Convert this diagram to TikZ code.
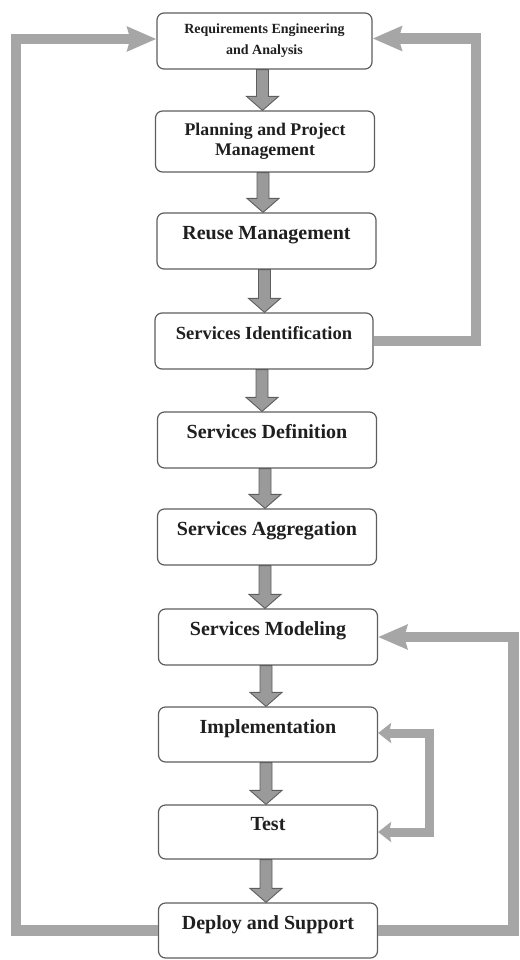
\documentclass[tikz,border=0pt]{standalone}
\usepackage{fontspec}
\setmainfont{Liberation Serif}
\usetikzlibrary{arrows.meta,calc}
\definecolor{fbgray}{HTML}{A6A6A6}
\definecolor{dagray}{HTML}{9A9A9A}
\definecolor{edgegray}{HTML}{5E5E5E}
\tikzset{
  box/.style={draw=edgegray, line width=1.2pt, rounded corners=7pt, fill=white,
    minimum width=219pt, minimum height=56pt, inner sep=2pt, align=center,
    font=\bfseries\fontsize{20}{22}\selectfont, text=black!88},
  oneline/.style={text height=14pt, text depth=17pt},
  fb/.style={draw=fbgray, line width=10.5pt, line join=miter, line cap=butt},
  fbtip/.style={-{Stealth[length=29pt,width=24pt,inset=3pt]}},
  fbsmall/.style={line width=9pt, {Stealth[length=13pt,width=20pt,inset=2pt]}-{Stealth[length=13pt,width=20pt,inset=2pt]}},
  downarr/.style={fill=dagray, draw=edgegray, line width=0.9pt, line join=miter}
}
\newcommand\flowarrow[2]{%
  \path[downarr] let \p1=(#1.south), \p2=(#2.north) in
    (\x1-8pt,\y1) -- (\x1-8pt,\y2+14pt) -- (\x1-18pt,\y2+14pt) -- (\x1-2pt,\y2)
    -- (\x1+14pt,\y2+14pt) -- (\x1+4pt,\y2+14pt) -- (\x1+4pt,\y1) -- cycle;}
\begin{document}
\begin{tikzpicture}[x=1pt,y=-1pt]
\useasboundingbox (0,0) rectangle (519,960);

\node[box, minimum width=215pt, font=\bfseries\fontsize{14}{21}\selectfont] (req) at (264.5,41) {Requirements Engineering\\and Analysis};
\node[box, minimum height=61pt, font=\bfseries\fontsize{17.8}{20}\selectfont] (plan) at (265,141.5) {Planning and Project\\Management};
\node[box, oneline] (reuse) at (266.5,241) {Reuse Management};
\node[box, oneline, minimum width=218pt, font=\bfseries\fontsize{18.5}{22}\selectfont] (ident) at (264,341) {Services Identification};
\node[box, oneline] (def) at (267,440) {Services Definition};
\node[box, oneline] (aggr) at (267,537) {Services Aggregation};
\node[box, oneline] (model) at (268,637) {Services Modeling};
\node[box, oneline, minimum height=55pt] (impl) at (268,734.5) {Implementation};
\node[box, oneline, minimum height=54pt] (test) at (268,832) {Test};
\node[box, oneline, minimum height=55pt] (deploy) at (268,930.5) {Deploy and Support};

\flowarrow{req}{plan}
\flowarrow{plan}{reuse}
\flowarrow{reuse}{ident}
\flowarrow{ident}{def}
\flowarrow{def}{aggr}
\flowarrow{aggr}{model}
\flowarrow{model}{impl}
\flowarrow{impl}{test}
\flowarrow{test}{deploy}

\coordinate (L) at (16,0);
\coordinate (R1) at (476,0);
\coordinate (R2) at (513.5,0);
\coordinate (R3) at (429,0);

\draw[fb, fbtip] (deploy.west) -- (deploy.west -| L) |- ([yshift=2pt]req.west);
\draw[fb, fbtip] (ident.east) -- (ident.east -| R1) |- ([yshift=2.5pt]req.east);
\draw[fb, fbtip] (deploy.east) -- (deploy.east -| R2) |- (model.east);
\draw[fb, fbsmall] ([yshift=1.5pt]impl.east) -- ([yshift=1.5pt]impl.east -| R3) |- (test.east);
\end{tikzpicture}
\end{document}
